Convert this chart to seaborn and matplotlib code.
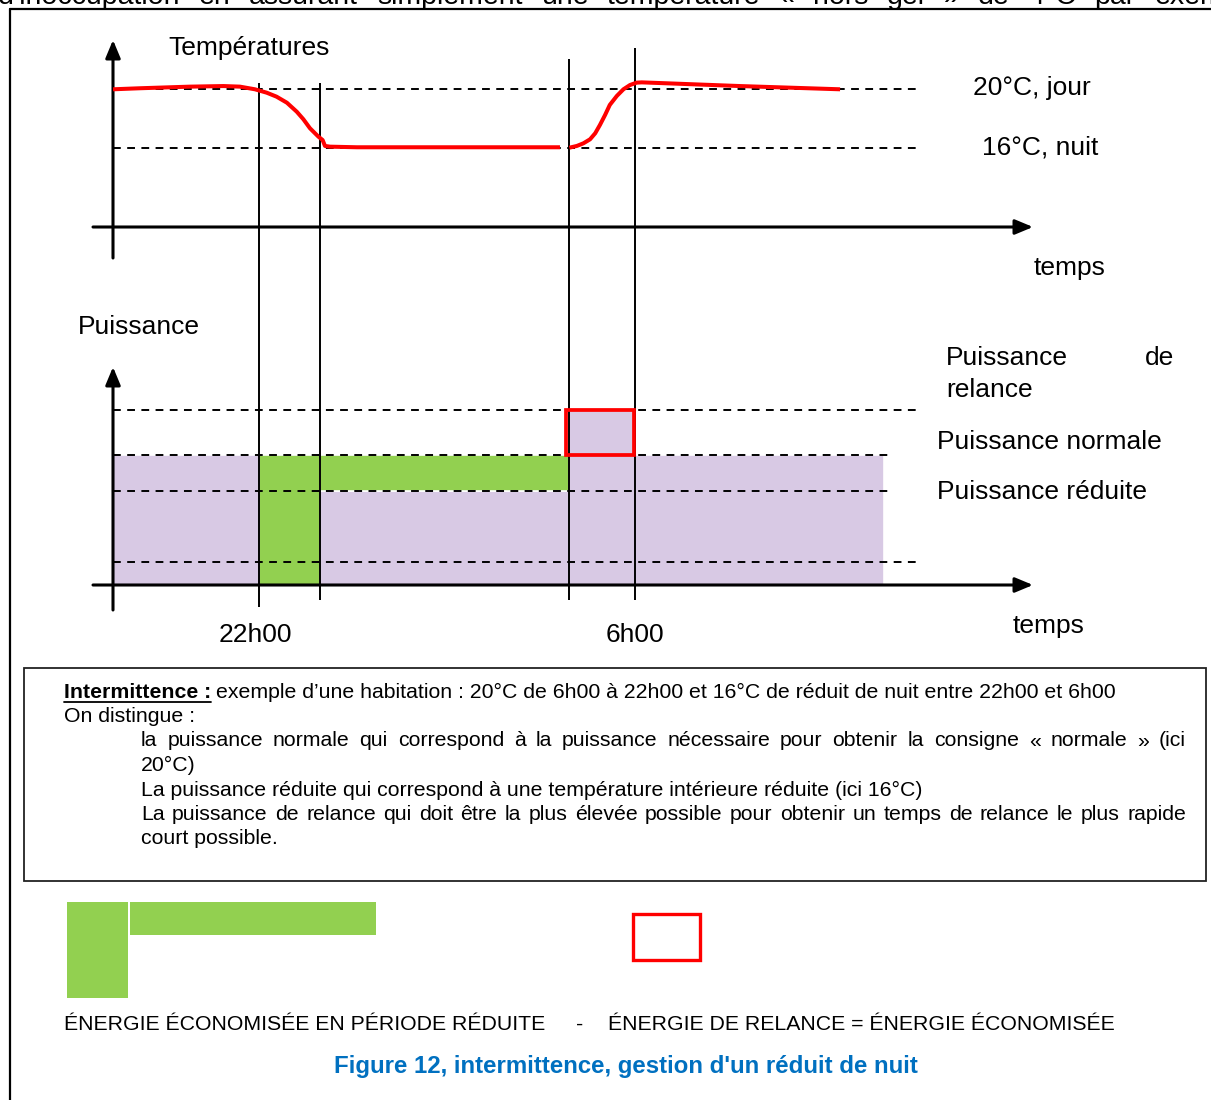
import matplotlib
matplotlib.use("Agg")
import numpy as np
import pandas as pd
import matplotlib.pyplot as plt
import matplotlib.patches as mpatches
import seaborn as sns

# repères de temps (heures schématiques depuis l'origine ~19h)
t_22h = 3.1
t_fin_baisse = 4.4
t_relance = 9.7
t_6h = 11.1
t_fin = 16.4

# courbe des températures (°C) en deux morceaux
temps_soir = [0.0, 0.57, 1.64, 2.35, 2.70, 3.02, 3.27, 3.48, 3.70, 3.91, 4.05, 4.19, 4.37, 4.46, 4.51, 4.62, 5.19, 9.51]
temp_soir = [19.98, 20.05, 20.16, 20.20, 20.16, 19.98, 19.75, 19.48, 19.07, 18.46, 17.95, 17.34, 16.77, 16.54, 16.14, 16.09, 16.05, 16.05]
temps_matin = [9.71, 9.87, 10.01, 10.15, 10.26, 10.36, 10.47, 10.57, 10.72, 10.86, 11.0, 11.14, 11.25, 13.34, 15.47]
temp_matin = [16.02, 16.14, 16.32, 16.59, 17.0, 17.56, 18.24, 18.92, 19.53, 19.98, 20.27, 20.43, 20.45, 20.20, 19.98]
consignes = [20, 16]
consignes_txt = ["20°C, jour", "16°C, nuit"]

# niveaux de puissance (unités arbitraires)
p_normale = 10.0
p_reduite = 7.2
p_relance = 13.45
p_bas = 1.8
niveaux = [p_relance, p_normale, p_reduite, p_bas]
niveaux_fin = [17.1, 16.6, 16.6, 17.15]

# blocs de puissance fournie
violet_debut = [0.0, t_fin_baisse, t_relance, t_6h]
violet_fin = [t_22h, t_relance, t_6h, t_fin]
violet_haut = [p_normale, p_reduite, p_relance, p_normale]
vert_debut = [t_22h, t_fin_baisse]
vert_fin = [t_fin_baisse, t_relance]
vert_bas = [0.0, p_reduite]
vert_haut = [p_normale, p_normale]

# traits verticaux de repère
reperes = [t_22h, t_fin_baisse, t_relance, t_6h]
reperes_haut = [20.41, 20.41, 22.03, 22.78]
reperes_bas = [-1.69, -1.15, -1.15, -1.15]
etiquettes = ["22h00", "6h00"]
etiquettes_t = [t_22h - 0.08, t_6h]

VIOLET = "#d8c9e4"
VERT = "#92d050"
ROUGE = "#ff0000"
BLEU = "#0070c0"

sns.set_theme(style="white")
plt.rcParams["font.family"] = ["Liberation Sans", "DejaVu Sans"]
plt.rcParams["text.color"] = "black"

W, H = 1211, 1100
fig = plt.figure(figsize=(W / 100, H / 100), dpi=100)
page = fig.add_axes([0, 0, 1, 1])
page.set_xlim(0, W)
page.set_ylim(H, 0)
page.set_axis_off()

# correspondance pixels <-> données
X0, PXH = 113, 47.0
def t_de(px):
    return (px - X0) / PXH
def T_de(py):
    return 20 - (py - 89) / 14.75
def P_de(py):
    return (585 - py) / 13.0

gauche, droite = 60, 1060
ax_t = fig.add_axes([gauche / W, 1 - 330 / H, (droite - gauche) / W, 305 / H])
ax_p = fig.add_axes([gauche / W, 1 - 650 / H, (droite - gauche) / W, 320 / H])
ax_t.set_xlim(t_de(gauche), t_de(droite))
ax_t.set_ylim(T_de(330), T_de(25))
ax_p.set_xlim(t_de(gauche), t_de(droite))
ax_p.set_ylim(P_de(650), P_de(330))

tirets = (0, (4, 3.3))
fleche = dict(arrowstyle="-|>,head_length=0.6,head_width=0.25", mutation_scale=18,
              lw=2.2, color="black", shrinkA=0, shrinkB=0)

# ---- graphe des températures
T_axe = T_de(227)
ax_t.hlines(consignes, 0, t_de(918), colors="black", linestyles=tirets, lw=1.4, zorder=2)
ax_t.vlines(reperes, T_de(330), reperes_haut, colors="black", lw=1.4, zorder=2, clip_on=False)
df = pd.DataFrame({"t": temps_soir + temps_matin, "T": temp_soir + temp_matin,
                   "morceau": [0] * len(temps_soir) + [1] * len(temps_matin)})
sns.lineplot(data=df, x="t", y="T", units="morceau", estimator=None, sort=False,
             color=ROUGE, lw=2.9, ax=ax_t, legend=False, zorder=4,
             solid_joinstyle="round", solid_capstyle="butt")
ax_t.annotate("", xy=(t_de(1033), T_axe), xytext=(t_de(93), T_axe), arrowprops=fleche)
ax_t.annotate("", xy=(0, T_de(40)), xytext=(0, T_de(258)), arrowprops=fleche)
ax_t.set_axis_off()

# ---- graphe des puissances
ax_p.bar(violet_debut, violet_haut, width=np.subtract(violet_fin, violet_debut), align="edge",
         color=VIOLET, edgecolor="white", linewidth=1.2, zorder=1)
ax_p.bar(vert_debut, np.subtract(vert_haut, vert_bas), bottom=vert_bas,
         width=np.subtract(vert_fin, vert_debut), align="edge",
         color=VERT, edgecolor="white", linewidth=1.2, zorder=1)
ax_p.hlines(niveaux, 0, niveaux_fin, colors="black", linestyles=tirets, lw=1.4, zorder=2)
ax_p.bar([t_relance - 0.06], [p_relance - p_normale], bottom=[p_normale],
         width=[t_6h - t_relance + 0.04], align="edge", fill=False,
         edgecolor=ROUGE, linewidth=2.7, zorder=5)
ax_p.vlines(reperes, reperes_bas, P_de(330), colors="black", lw=1.4, zorder=3, clip_on=False)
ax_p.annotate("", xy=(t_de(1033), 0), xytext=(t_de(93), 0), arrowprops=fleche)
ax_p.annotate("", xy=(0, P_de(367)), xytext=(0, P_de(610)), arrowprops=fleche)
for x, lab in zip(etiquettes_t, etiquettes):
    ax_p.text(x, P_de(635), lab, ha="center", va="center", fontsize=19)
ax_p.set_axis_off()

# ---- textes des graphes
grand = dict(fontsize=19, va="center", ha="left")
page.text(168, 48, "Températures", **grand)
page.text(973, 88, consignes_txt[0], **grand)
page.text(982, 147, consignes_txt[1], **grand)
page.text(1034, 268, "temps", **grand)
page.text(78, 327, "Puissance", **grand)
page.text(946, 358, "Puissance", **grand)
page.text(1174, 358, "de", fontsize=19, va="center", ha="right")
page.text(946, 390, "relance", **grand)
page.text(937, 442, "Puissance normale", **grand)
page.text(937, 492, "Puissance réduite", **grand)
page.text(1013, 626, "temps", **grand)

# cadres
page.plot([10, 10], [9, H], color="black", lw=1.6)
page.plot([10, W], [9, 9], color="black", lw=1.6)
page.add_patch(mpatches.Rectangle((24, 668), 1182, 213, fill=False, lw=1.3, edgecolor="#222222"))

# ---- encadré
r = fig.canvas.get_renderer()
petit = 15.3

def justifie(x0, x1, y, texte, taille=petit, va="center"):
    mots = texte.split()
    objs = [page.text(0, y, m, fontsize=taille, va=va, ha="left") for m in mots]
    larg = [o.get_window_extent(r).width for o in objs]
    ecart = (x1 - x0 - sum(larg)) / (len(mots) - 1)
    x = x0
    for o, w in zip(objs, larg):
        o.set_x(x)
        x += w + ecart

# texte coupé en haut de page (ligne du document, tronquée comme sur l'original)
justifie(-2, 1262, 4, "d’inoccupation en assurant simplement une température « hors gel » de 4°C par exemple",
         taille=20.5, va="baseline")

t1 = page.text(64, 692, "Intermittence :", fontsize=petit, fontweight="bold", va="center")
w1 = t1.get_window_extent(r).width
page.plot([64, 64 + w1], [702, 702], color="black", lw=1.3)
page.text(64 + w1 + 5, 692, "exemple d’une habitation : 20°C de 6h00 à 22h00 et 16°C de réduit de nuit entre 22h00 et 6h00",
          fontsize=petit, va="center")
page.text(64, 716, "On distingue :", fontsize=petit, va="center")
justifie(141, 1186, 741, "la puissance normale qui correspond à la puissance nécessaire pour obtenir la consigne « normale » (ici")
page.text(141, 765, "20°C)", fontsize=petit, va="center")
page.text(141, 790, "La puissance réduite qui correspond à une température intérieure réduite (ici 16°C)",
          fontsize=petit, va="center")
justifie(141, 1186, 815, "La puissance de relance qui doit être la plus élevée possible pour obtenir un temps de relance le plus rapide")
page.text(141, 839, "court possible.", fontsize=petit, va="center")

# ---- bilan énergétique
page.add_patch(mpatches.Rectangle((67, 902), 61, 96, color=VERT, lw=0))
page.add_patch(mpatches.Rectangle((130, 902), 246, 33, color=VERT, lw=0))
page.add_patch(mpatches.Rectangle((633, 914), 67, 46, fill=False, edgecolor=ROUGE, lw=2.4))
page.text(64, 1024, "ÉNERGIE ÉCONOMISÉE EN PÉRIODE RÉDUITE", fontsize=petit, va="center")
page.text(580, 1024, "-", fontsize=petit, va="center", ha="center")
page.text(608, 1024, "ÉNERGIE DE RELANCE = ÉNERGIE ÉCONOMISÉE", fontsize=petit, va="center")
page.text(626, 1067, "Figure 12, intermittence, gestion d'un réduit de nuit", fontsize=17.3,
          fontweight="bold", color=BLEU, va="center", ha="center")

fig.savefig("out.png", dpi=100)
